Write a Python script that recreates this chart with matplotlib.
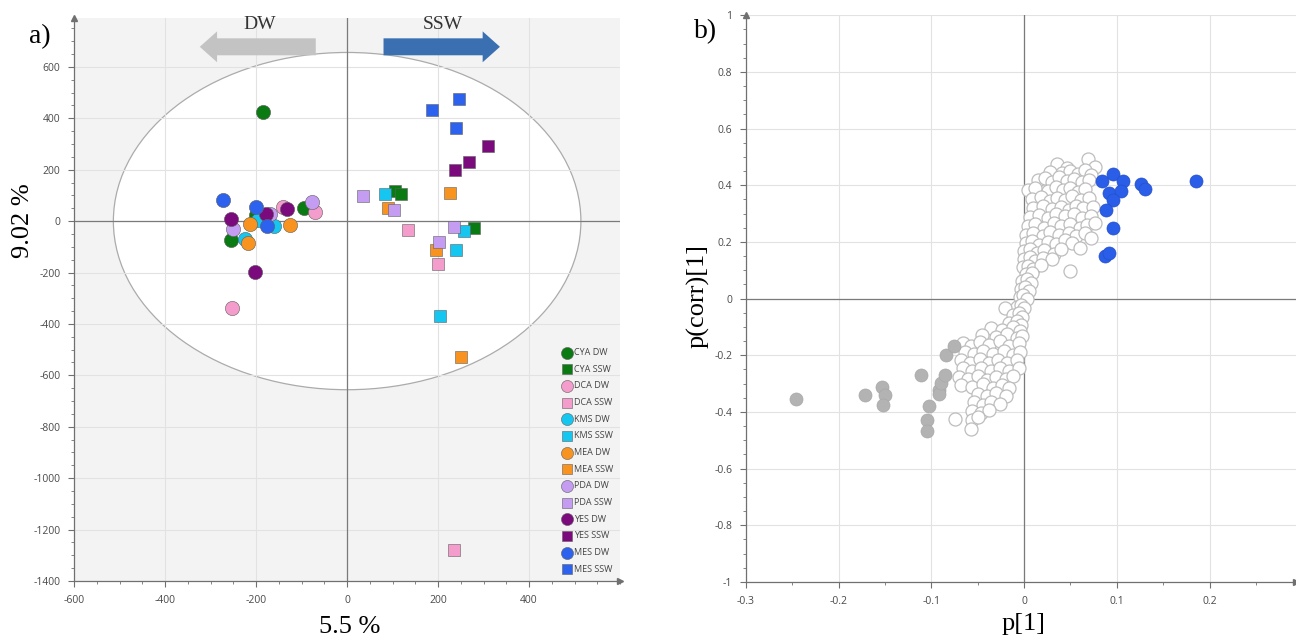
import numpy as np
import matplotlib
matplotlib.use('Agg')
import matplotlib.pyplot as plt
from matplotlib.patches import Ellipse, FancyArrow
from matplotlib.ticker import MultipleLocator, FuncFormatter

plt.rcParams['axes.unicode_minus'] = False
plt.rcParams['font.family'] = ['Open Sans', 'DejaVu Sans']

# ---- panel a) scores, one list per medium ----
media = ['CYA', 'DCA', 'KMS', 'MEA', 'PDA', 'YES', 'MES']
media_colors = ['#0a7a12', '#f49ccb', '#14c6f0', '#f7931e', '#c49cf2', '#7b0a7d', '#2d62ee']

dw_x = [[-186, -255, -94, -201], [-254, -141, -71], [-197, -161, -224],
        [-213, -126, -217], [-170, -77, -250], [-179, -256, -203, -133],
        [-272, -200, -177]]
dw_y = [[426, -72, 50, 23], [-340, 53, 34], [4, -19, -69],
        [-12, -16, -84], [28, 75, -32], [27, 10, -198, 48],
        [84, 53, -19]]
ssw_x = [[105, 118, 278], [134, 199, 234], [83, 256, 240, 204],
         [227, 89, 196, 251], [34, 103, 234, 202], [310, 267, 238],
         [187, 246, 240]]
ssw_y = [[117, 105, -26], [-34, -166, -1280], [105, -39, -113, -368],
         [110, 51, -113, -528], [98, 42, -22, -80], [292, 230, 197],
         [432, 475, 363]]

# ---- panel b) loadings ----
neutral_pts = [
    (0.036, 0.476), (0.046, 0.462), (0.069, 0.493), (0.076, 0.466),
    (0.028, 0.448), (0.041, 0.444), (0.050, 0.452), (0.058, 0.440), (0.066, 0.455), (0.072, 0.437),
    (0.015, 0.418), (0.023, 0.425), (0.030, 0.410), (0.038, 0.428), (0.046, 0.415), (0.054, 0.422),
    (0.062, 0.412), (0.070, 0.420),
    (0.004, 0.382), (0.012, 0.390), (0.026, 0.378), (0.034, 0.395), (0.042, 0.384), (0.050, 0.392),
    (0.058, 0.375), (0.066, 0.386),
    (0.008, 0.352), (0.018, 0.360), (0.028, 0.346), (0.036, 0.356), (0.044, 0.348), (0.052, 0.362),
    (0.061, 0.349), (0.070, 0.356),
    (0.010, 0.318), (0.020, 0.326), (0.030, 0.315), (0.040, 0.324), (0.048, 0.312), (0.056, 0.328),
    (0.064, 0.318), (0.074, 0.322),
    (0.006, 0.288), (0.016, 0.295), (0.026, 0.284), (0.034, 0.298), (0.044, 0.290), (0.054, 0.300),
    (0.062, 0.286), (0.072, 0.292),
    (0.004, 0.255), (0.012, 0.262), (0.022, 0.250), (0.032, 0.266), (0.040, 0.256), (0.050, 0.262),
    (0.060, 0.250), (0.068, 0.258), (0.076, 0.268),
    (0.002, 0.226), (0.010, 0.232), (0.020, 0.220), (0.028, 0.236), (0.038, 0.226), (0.048, 0.232),
    (0.056, 0.222), (0.066, 0.230), (0.072, 0.215),
    (0.002, 0.196), (0.008, 0.204), (0.016, 0.190), (0.026, 0.200), (0.034, 0.194), (0.044, 0.206),
    (0.052, 0.196), (0.060, 0.180),
    (0.000, 0.168), (0.006, 0.174), (0.014, 0.160), (0.022, 0.170), (0.032, 0.158), (0.040, 0.176),
    (0.049, 0.096),
    (0.000, 0.140), (0.006, 0.146), (0.012, 0.132), (0.020, 0.142), (0.030, 0.138),
    (-0.001, 0.110), (0.004, 0.116), (0.010, 0.104), (0.018, 0.120),
    (0.002, 0.086), (0.008, 0.092), (-0.002, 0.062), (0.003, 0.068), (0.007, 0.056),
    (-0.003, 0.034), (0.001, 0.040), (0.005, 0.028),
    (-0.004, 0.004), (-0.001, 0.012), (0.003, -0.002),
    (-0.008, -0.028), (-0.003, -0.022), (0.000, -0.034), (-0.021, -0.034),
    (-0.012, -0.058), (-0.006, -0.052), (-0.002, -0.064),
    (-0.016, -0.086), (-0.008, -0.080), (-0.003, -0.092),
    (-0.036, -0.104), (-0.024, -0.110), (-0.012, -0.100), (-0.004, -0.114),
    (-0.045, -0.128), (-0.030, -0.136), (-0.018, -0.126), (-0.008, -0.140), (-0.002, -0.132),
    (-0.066, -0.158), (-0.057, -0.166), (-0.048, -0.154), (-0.038, -0.162), (-0.026, -0.150),
    (-0.016, -0.168), (-0.006, -0.158),
    (-0.064, -0.188), (-0.054, -0.194), (-0.044, -0.184), (-0.034, -0.196), (-0.022, -0.186),
    (-0.012, -0.198), (-0.004, -0.190),
    (-0.068, -0.218), (-0.058, -0.226), (-0.048, -0.214), (-0.038, -0.228), (-0.028, -0.218),
    (-0.018, -0.226), (-0.008, -0.216),
    (-0.066, -0.246), (-0.056, -0.254), (-0.046, -0.244), (-0.036, -0.256), (-0.026, -0.246),
    (-0.016, -0.254), (-0.006, -0.244),
    (-0.070, -0.276), (-0.060, -0.284), (-0.050, -0.274), (-0.040, -0.286), (-0.030, -0.276),
    (-0.020, -0.284), (-0.012, -0.272),
    (-0.068, -0.306), (-0.056, -0.312), (-0.044, -0.302), (-0.034, -0.314), (-0.024, -0.306),
    (-0.016, -0.314),
    (-0.050, -0.336), (-0.040, -0.344), (-0.030, -0.334), (-0.020, -0.342),
    (-0.054, -0.366), (-0.044, -0.374), (-0.036, -0.364), (-0.026, -0.372),
    (-0.056, -0.398), (-0.046, -0.404), (-0.038, -0.394),
    (-0.074, -0.424), (-0.056, -0.428), (-0.050, -0.418),
    (-0.057, -0.460),
]
dw_marker_x = [-0.246, -0.172, -0.153, -0.150, -0.152, -0.111, -0.103, -0.105, -0.105,
               -0.092, -0.092, -0.090, -0.085, -0.084, -0.076]
dw_marker_y = [-0.353, -0.341, -0.312, -0.339, -0.374, -0.269, -0.378, -0.429, -0.466,
               -0.321, -0.335, -0.298, -0.268, -0.198, -0.168]
ssw_marker_x = [0.084, 0.096, 0.107, 0.092, 0.104, 0.096, 0.088, 0.096, 0.087, 0.092,
                0.126, 0.130, 0.185]
ssw_marker_y = [0.414, 0.441, 0.414, 0.373, 0.379, 0.349, 0.311, 0.248, 0.149, 0.161,
                0.405, 0.385, 0.414]

fig = plt.figure(figsize=(12.96, 6.39), dpi=100)
tick_col = '#4a4a4a'
spine_col = '#707070'


def style_axes(ax):
    for s in ['top', 'right']:
        ax.spines[s].set_visible(False)
    for s in ['left', 'bottom']:
        ax.spines[s].set_color(spine_col)
        ax.spines[s].set_linewidth(0.9)
    ax.tick_params(which='major', length=4, width=0.8, color=spine_col,
                   labelsize=7.5, labelcolor=tick_col, pad=6)
    ax.tick_params(which='minor', length=2, width=0.6, color=spine_col)
    ax.grid(True, which='major', color='#e2e2e2', lw=0.8)
    ax.set_axisbelow(True)
    ax.axhline(0, color='#7a7a7a', lw=0.9, zorder=1)
    ax.axvline(0, color='#7a7a7a', lw=0.9, zorder=1)
    ax.plot([0], [1], marker='^', color=spine_col, ms=5, transform=ax.transAxes, clip_on=False)
    ax.plot([1], [0], marker='>', color=spine_col, ms=5, transform=ax.transAxes, clip_on=False)


# ---- a) ----
ax1 = fig.add_axes([0.0573, 0.0908, 0.4211, 0.881])
ax1.set_facecolor('#f3f3f3')
ax1.set_xlim(-600, 600)
ax1.set_ylim(-1400, 790)
ax1.xaxis.set_minor_locator(MultipleLocator(50))
ax1.yaxis.set_minor_locator(MultipleLocator(50))
ax1.set_xticks([-600, -400, -200, 0, 200, 400])
ax1.set_yticks(np.arange(-1400, 601, 200))
style_axes(ax1)
ax1.add_patch(Ellipse((0, 0), 1028, 1312, facecolor='white', edgecolor='#ababab', lw=0.9, zorder=0.2))

for i, m in enumerate(media):
    ax1.scatter(dw_x[i], dw_y[i], s=105, marker='o', color=media_colors[i],
                edgecolors='#606060', linewidths=0.4, zorder=3, label=f'{m} DW')
    ax1.scatter(ssw_x[i], ssw_y[i], s=80, marker='s', color=media_colors[i],
                edgecolors='#606060', linewidths=0.4, zorder=3, label=f'{m} SSW')

leg = ax1.legend(loc='lower right', bbox_to_anchor=(1.0, 0.0), frameon=False, fontsize=6.5,
                 markerscale=0.85, handletextpad=0.1, labelspacing=0.85, borderaxespad=0.4,
                 handlelength=1.2)
for t in leg.get_texts():
    t.set_color('#444444')

ax1.add_patch(FancyArrow(-69, 678, -255, 0, width=66, head_width=120, head_length=38,
                         length_includes_head=True, color='#c3c3c3', lw=0, clip_on=False, zorder=4))
ax1.add_patch(FancyArrow(80, 678, 256, 0, width=66, head_width=120, head_length=38,
                         length_includes_head=True, color='#3a70b2', lw=0, clip_on=False, zorder=4))
ax1.text(-192, 765, 'DW', ha='center', va='center', fontsize=14, family='Liberation Serif', color='#333333')
ax1.text(210, 765, 'SSW', ha='center', va='center', fontsize=14, family='Liberation Serif', color='#333333')

# ---- b) ----
ax2 = fig.add_axes([0.5756, 0.0892, 0.4242, 0.887])
ax2.set_xlim(-0.3, 0.293)
ax2.set_ylim(-1, 1.0)
ax2.xaxis.set_major_locator(MultipleLocator(0.1))
ax2.xaxis.set_minor_locator(MultipleLocator(0.05))
ax2.yaxis.set_major_locator(MultipleLocator(0.2))
ax2.yaxis.set_minor_locator(MultipleLocator(0.05))
fmt = FuncFormatter(lambda v, p: f'{v:g}' if abs(v) > 1e-9 else '0')
ax2.xaxis.set_major_formatter(fmt)
ax2.yaxis.set_major_formatter(fmt)
style_axes(ax2)

neutral = np.array(neutral_pts)
ax2.scatter(neutral[:, 0], neutral[:, 1], s=88, facecolor='white', edgecolors='#bdbdbd',
            linewidths=0.9, zorder=3)
ax2.scatter(dw_marker_x, dw_marker_y, s=88, color='#b3b3b3', edgecolors='#a8a8a8',
            linewidths=0.5, zorder=4)
ax2.scatter(ssw_marker_x, ssw_marker_y, s=88, color='#2a5ee8', edgecolors='#2450c8',
            linewidths=0.5, zorder=4)

# ---- labels ----
serif = 'Liberation Serif'
fig.text(0.0305, 0.943, 'a)', fontsize=20, family=serif, ha='center', va='center')
fig.text(0.5444, 0.951, 'b)', fontsize=20, family=serif, ha='center', va='center')
fig.text(0.0181, 0.654, '9.02 %', fontsize=19, family=serif, rotation=90, ha='center', va='center')
fig.text(0.270, 0.019, '5.5 %', fontsize=19, family=serif, ha='center', va='center')
fig.text(0.790, 0.0235, 'p[1]', fontsize=19, family=serif, ha='center', va='center')
fig.text(0.5386, 0.537, 'p(corr)[1]', fontsize=19, family=serif, rotation=90, ha='center', va='center')

fig.savefig('out.png', dpi=100)
